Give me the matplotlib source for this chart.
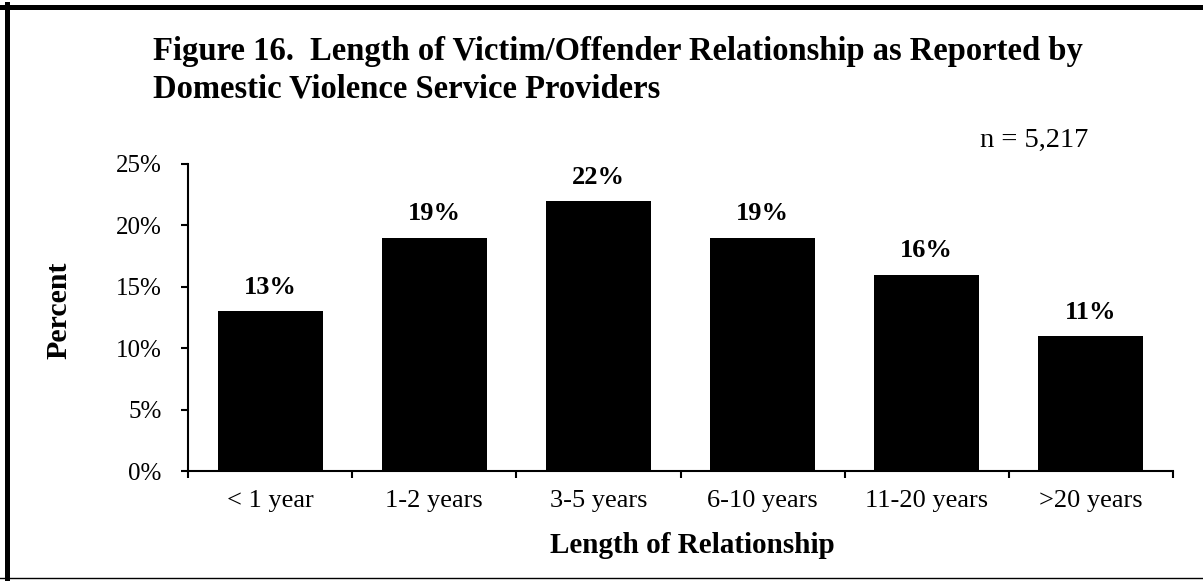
import matplotlib
matplotlib.use("Agg")
import matplotlib.pyplot as plt
from matplotlib.lines import Line2D
import numpy as np

categories = ["< 1 year", "1-2 years", "3-5 years", "6-10 years", "11-20 years", ">20 years"]
percent = [13, 19, 22, 19, 16, 11]
y_ticks = [0, 5, 10, 15, 20, 25]

plt.rcParams["font.family"] = ["Liberation Serif", "DejaVu Serif"]

W, H = 1203, 581
fig = plt.figure(figsize=(W / 100, H / 100), dpi=100)
ax = fig.add_axes([188 / W, 1 - 471 / H, (1173 - 188) / W, (471 - 164) / H])

x = np.arange(len(categories))
ax.bar(x, percent, width=0.64, color="black")
for xi, v in zip(x, percent):
    ax.text(xi, v + 1.0, f"{v}%", ha="center", va="bottom", fontsize=19, fontweight="bold")

ax.set_xlim(-0.5, len(categories) - 0.5)
ax.set_ylim(0, 25)
ax.set_yticks(y_ticks)
ax.set_yticklabels([f"{t}%" for t in y_ticks], fontsize=18)
ax.set_xticks(x)
ax.set_xticklabels(categories, fontsize=19)
ax.tick_params(axis="x", length=0, pad=14)
ax.set_xticks(np.arange(len(categories) + 1) - 0.5, minor=True)
ax.tick_params(axis="x", which="minor", length=5, width=1.5, direction="out")
ax.tick_params(axis="y", length=5, width=1.5, direction="out", pad=14)
for s in ["top", "right"]:
    ax.spines[s].set_visible(False)
ax.spines["left"].set_linewidth(1.5)
ax.spines["bottom"].set_linewidth(1.5)

ax.set_ylabel("Percent", fontsize=21.5, fontweight="bold")
ax.yaxis.set_label_coords(-0.117, 0.524)
ax.set_xlabel("Length of Relationship", fontsize=21, fontweight="bold")
ax.xaxis.set_label_coords(0.512, -0.199)

fig.text(153 / W, 1 - 60 / H,
         "Figure 16.  Length of Victim/Offender Relationship as Reported by",
         fontsize=23.5, fontweight="bold", ha="left", va="baseline")
fig.text(153 / W, 1 - 97 / H, "Domestic Violence Service Providers",
         fontsize=23.5, fontweight="bold", ha="left", va="baseline")
fig.text(1088 / W, 1 - 147 / H, "n = 5,217", fontsize=20.5, ha="right", va="baseline")

# frame around the figure
fig.add_artist(Line2D([0, 1], [1 - 6.5 / H, 1 - 6.5 / H], color="black", lw=3.6, transform=fig.transFigure))
fig.add_artist(Line2D([6.5 / W, 6.5 / W], [0, 1 - 4 / H], color="black", lw=3.6, transform=fig.transFigure))
fig.add_artist(Line2D([0, 1], [1 - 578 / H, 1 - 578 / H], color="black", lw=1, transform=fig.transFigure))

fig.savefig("out.png", dpi=100)
